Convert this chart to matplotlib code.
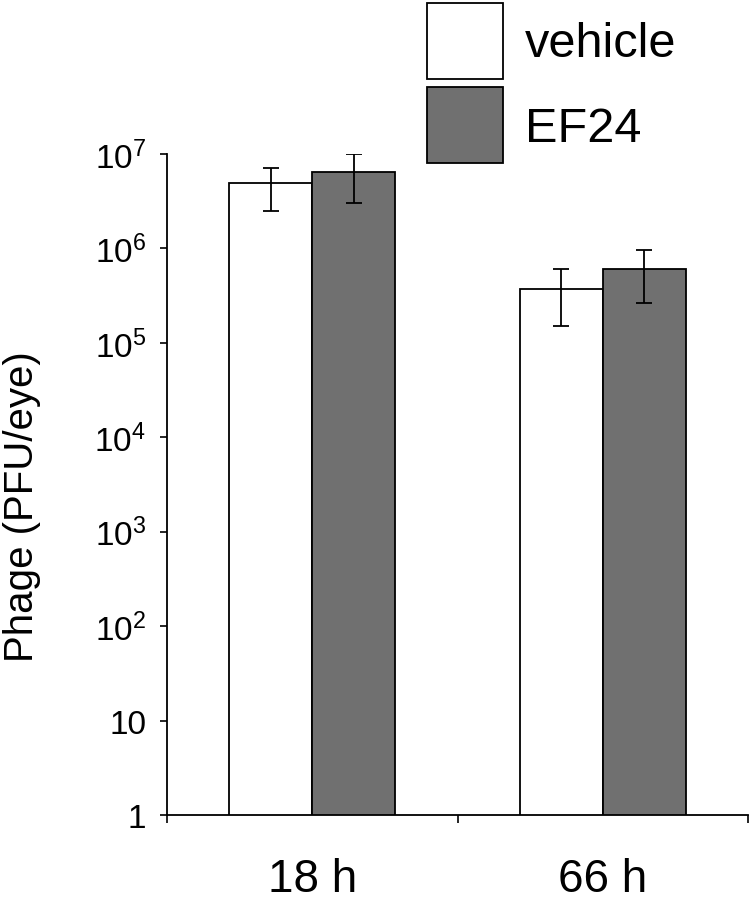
import matplotlib
matplotlib.use("Agg")
import matplotlib.pyplot as plt
import numpy as np

plt.rcParams['font.family'] = ['Liberation Sans', 'DejaVu Sans']
plt.rcParams['mathtext.fontset'] = 'custom'
plt.rcParams['mathtext.rm'] = 'Liberation Sans'
plt.rcParams['mathtext.it'] = 'Liberation Sans'
plt.rcParams['mathtext.bf'] = 'Liberation Sans'

categories = ['18 h', '66 h']
series = ['vehicle', 'EF24']
vehicle = [4.9e6, 3.7e5]
vehicle_lo = [2.5e6, 1.5e5]
vehicle_hi = [7.1e6, 6.0e5]
ef24 = [6.4e6, 6.0e5]
ef24_lo = [3.05e6, 2.65e5]
ef24_hi = [9.9e6, 9.6e5]
ytick_vals = [1, 10, 1e2, 1e3, 1e4, 1e5, 1e6, 1e7]
ytick_labels = ['1', '10', '$10^{2}$', '$10^{3}$', '$10^{4}$', '$10^{5}$', '$10^{6}$', '$10^{7}$']
colors = ['white', '#707070']

fig = plt.figure(figsize=(7.5, 9.04), dpi=100)
ax = fig.add_axes([167/750, 1 - 816/904, (748-167)/750, (816-155)/904])

x = np.arange(len(categories)) + 0.5
w = 0.286
vals = [vehicle, ef24]
los = [vehicle_lo, ef24_lo]
his = [vehicle_hi, ef24_hi]
for i, (name, v, lo, hi, c) in enumerate(zip(series, vals, los, his, colors)):
    pos = x + (i - 0.5) * w
    v = np.array(v); lo = np.array(lo); hi = np.array(hi)
    ax.bar(pos, v, width=w, color=c, edgecolor='black', linewidth=1.3, label=name, zorder=2)
    ax.errorbar(pos, v, yerr=[v - lo, hi - v], fmt='none', ecolor='black',
                elinewidth=1.3, capsize=5.5, capthick=1.3, zorder=3)

ax.set_yscale('log')
ax.set_ylim(1, 1e7)
ax.set_xlim(0, 2)
ax.set_yticks(ytick_vals)
ax.set_yticklabels(ytick_labels)
ax.yaxis.set_minor_locator(matplotlib.ticker.NullLocator())
ax.tick_params(axis='y', labelsize=24, length=5, width=1.2, direction='out', pad=10)
ax.set_xticks([0, 1, 2])
ax.set_xticklabels(['', '', ''])
ax.set_xticks(x, minor=True)
ax.set_xticklabels(categories, minor=True)
ax.tick_params(axis='x', which='major', length=6, width=1.2, direction='out')
ax.tick_params(axis='x', which='minor', length=0, labelsize=33, pad=30)
for s in ['top', 'right']:
    ax.spines[s].set_visible(False)
for s in ['left', 'bottom']:
    ax.spines[s].set_linewidth(1.3)

fig.text(22/750, 1 - 507/904, 'Phage (PFU/eye)', rotation=90, fontsize=29,
         ha='center', va='center')

leg = ax.legend(loc='upper left', bbox_to_anchor=(427/750, 1 - 4/904), bbox_transform=fig.transFigure,
                frameon=False, fontsize=35, handlelength=1.56, handleheight=2.03,
                handletextpad=0.45, labelspacing=0.17, borderpad=0, borderaxespad=0)

fig.savefig('out.png', dpi=100)
